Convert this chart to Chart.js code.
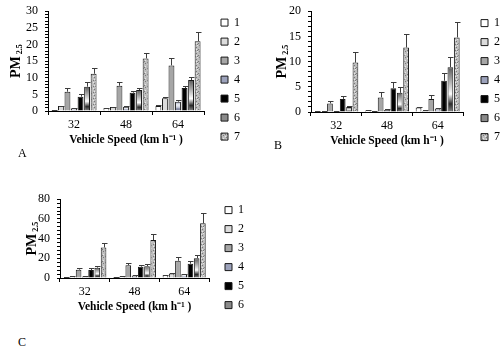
<!DOCTYPE html>
<html>
<head>
<meta charset="utf-8">
<script src="https://cdn.jsdelivr.net/npm/chart.js@4.4.1/dist/chart.umd.min.js"></script>
<style>
  body { margin: 0; background: #fff; }
  #wrap { position: relative; width: 500px; height: 348px; overflow: hidden; background: #fff; }
  canvas { position: absolute; }
  .tag { position: absolute; font-family: "Liberation Serif", "Times New Roman", serif; font-size: 12px; color: #000; line-height: 12px; }
</style>
</head>
<body>
<div id="wrap">
  <canvas id="chartA" width="256" height="160" style="left:0;top:-3px"></canvas>
  <canvas id="chartB" width="250" height="160" style="left:260px;top:-3px"></canvas>
  <canvas id="chartC" width="254" height="142" style="left:0;top:185px"></canvas>
  <div class="tag" style="left:18px;top:147px">A</div>
  <div class="tag" style="left:274px;top:139px">B</div>
  <div class="tag" style="left:18px;top:336px">C</div>
</div>
<script>
// vehicle speeds (km/h) and the treatment series
const speeds = ['32', '48', '64'];
const seriesLabels = ['1', '2', '3', '4', '5', '6', '7'];

// panel A: mean PM2.5 per series (rows = series 1..7, cols = 32/48/64)
const panelAMeans = [
    [0.3, 0.9, 1.5],
    [1.5, 1.2, 3.8],
    [5.8, 7.6, 13.7],
    [0.8, 1.3, 2.8],
    [4.3, 5.5, 6.9],
    [7.3, 6.3, 9.3],
    [11.2, 15.8, 21.0]
];
const panelAErr = [
    [0.1, 0.1, 0.2],
    [0.1, 0.1, 0.3],
    [1.2, 1.1, 2.3],
    [0.1, 0.2, 0.4],
    [0.9, 0.5, 0.7],
    [1.5, 0.7, 1.0],
    [1.6, 1.7, 2.8]
];

// panel B
const panelBMeans = [
    [0.1, 0.3, 0.9],
    [0.1, 0.1, 0.2],
    [1.7, 2.9, 2.6],
    [0.2, 0.4, 0.7],
    [2.6, 4.7, 6.2],
    [1.0, 3.8, 8.9],
    [9.8, 12.8, 14.8]
];
const panelBErr = [
    [0.05, 0.05, 0.1],
    [0.05, 0.05, 0.1],
    [0.4, 1.0, 0.8],
    [0.05, 0.1, 0.1],
    [0.6, 1.2, 1.6],
    [0.2, 1.2, 2.0],
    [2.2, 2.6, 3.1]
];

// panel C
const panelCMeans = [
    [0.5, 1.0, 3.0],
    [1.5, 1.5, 4.5],
    [8.5, 13.0, 17.5],
    [1.5, 2.5, 4.0],
    [8.0, 11.5, 14.5],
    [10.5, 12.0, 20.0],
    [31.0, 38.5, 55.5]
];
const panelCErr = [
    [0.2, 0.2, 0.5],
    [0.3, 0.3, 0.5],
    [1.5, 2.5, 3.5],
    [0.3, 0.4, 0.5],
    [2.0, 1.5, 2.5],
    [2.0, 2.5, 3.0],
    [5.0, 6.5, 10.5]
];

const serif = '"Liberation Serif", "Times New Roman", serif';

// speckled texture used by series 7
function speckle() {
    const c = document.createElement('canvas');
    c.width = 6; c.height = 6;
    const g = c.getContext('2d');
    g.fillStyle = '#bdbdbd';
    g.fillRect(0, 0, 6, 6);
    g.fillStyle = '#7a7a7a';
    [[1, 0], [4, 2], [0, 4], [3, 5], [5, 5]].forEach(p => g.fillRect(p[0], p[1], 1, 1));
    g.fillStyle = '#e6e6e6';
    [[3, 1], [1, 3], [5, 0], [4, 4]].forEach(p => g.fillRect(p[0], p[1], 1, 1));
    return g.createPattern(c, 'repeat');
}
const speckPattern = speckle();

// banded fills for series 4 and 6 (stretched over each bar)
const bandStops = {
    4: [[0, '#9ca2bb'], [0.35, '#eef0f6'], [0.6, '#c9cddc'], [0.8, '#6e7491'], [1, '#c4c8d6']],
    6: [[0, '#5a5a5a'], [0.35, '#b8b8b8'], [0.6, '#ffffff'], [0.82, '#2a2a2a'], [1, '#8a8a8a']]
};
const legendSolid = { 4: '#9197b2', 6: '#6a6a6a' };

function bandFill(n) {
    return function (context) {
        if (context.type !== 'data') return legendSolid[n];
        const chart = context.chart;
        const y = chart.scales.y;
        if (!y || !chart.chartArea) return legendSolid[n];
        const top = y.getPixelForValue(context.raw);
        const base = y.getPixelForValue(0);
        if (!isFinite(top) || !isFinite(base) || base - top < 1) return legendSolid[n];
        const g = chart.ctx.createLinearGradient(0, top, 0, base);
        bandStops[n].forEach(s => g.addColorStop(s[0], s[1]));
        return g;
    };
}

const fills = ['#ffffff', '#dcdcdc', '#a6a6a6', bandFill(4), '#000000', bandFill(6), speckPattern];

// upper error whiskers
const errorBars = {
    id: 'errorBars',
    afterDatasetsDraw(chart) {
        const ctx = chart.ctx;
        const y = chart.scales.y;
        chart.data.datasets.forEach((ds, i) => {
            const meta = chart.getDatasetMeta(i);
            meta.data.forEach((bar, j) => {
                const e = ds.errors[j];
                if (!e) return;
                const yBar = y.getPixelForValue(ds.data[j]);
                const yTop = y.getPixelForValue(ds.data[j] + e);
                const x = Math.round(bar.x) + 0.5;
                ctx.save();
                ctx.strokeStyle = '#3c3c3c';
                ctx.lineWidth = 1;
                ctx.beginPath();
                ctx.moveTo(x, yBar);
                ctx.lineTo(x, Math.round(yTop) + 0.5);
                ctx.moveTo(x - 2.5, Math.round(yTop) + 0.5);
                ctx.lineTo(x + 3, Math.round(yTop) + 0.5);
                ctx.stroke();
                ctx.restore();
            });
        });
    }
};

// "PM 2.5" y title with the subscript
const yTitle = {
    id: 'yTitle',
    afterDraw(chart, args, opts) {
        const ctx = chart.ctx;
        const area = chart.chartArea;
        const cy = (area.top + area.bottom) / 2;
        ctx.save();
        ctx.translate(opts.x, cy);
        ctx.rotate(-Math.PI / 2);
        ctx.fillStyle = '#000';
        ctx.textBaseline = 'middle';
        ctx.font = 'bold 14px ' + serif;
        const w1 = ctx.measureText('PM').width;
        ctx.font = 'bold 8px ' + serif;
        const w2 = ctx.measureText(' 2.5').width;
        const x0 = -(w1 + w2) / 2;
        ctx.font = 'bold 14px ' + serif;
        ctx.fillText('PM', x0, 0);
        ctx.font = 'bold 8px ' + serif;
        ctx.fillText(' 2.5', x0 + w1, 4);
        ctx.restore();
    }
};

// leaves a gap between the plot and the right-hand legend, nudges it down
const legendGap = {
    id: 'legendGap',
    beforeInit(chart, args, opts) {
        const legend = chart.legend;
        const fit = legend.fit;
        legend.fit = function () {
            fit.call(this);
            this.width += opts.gap;
        };
    },
    afterLayout(chart, args, opts) {
        const legend = chart.legend;
        legend.left += opts.gap;
        legend.right += opts.gap;
        legend.top += opts.dy;
        legend.bottom += opts.dy;
    }
};

function buildChart(id, means, errs, cfg) {
    const datasets = means.map((vals, i) => ({
        label: seriesLabels[i],
        data: vals,
        errors: errs[i],
        backgroundColor: fills[i],
        borderColor: '#1a1a1a',
        borderWidth: 1,
        categoryPercentage: 0.88,
        barPercentage: 0.9
    }));

    return new Chart(document.getElementById(id), {
        type: 'bar',
        data: { labels: speeds, datasets: datasets },
        options: {
            responsive: false,
            animation: false,
            devicePixelRatio: 1,
            layout: { padding: cfg.padding },
            plugins: {
                legend: {
                    display: true,
                    position: 'right',
                    align: 'center',
                    labels: {
                        boxWidth: 7,
                        boxHeight: 7,
                        padding: 7,
                        color: '#000',
                        font: { family: serif, size: 12 },
                        filter: item => item.datasetIndex < cfg.legendCount
                    }
                },
                tooltip: { enabled: false },
                yTitle: { x: cfg.titleX },
                legendGap: { gap: cfg.gap, dy: cfg.dy }
            },
            scales: {
                x: {
                    grid: { drawOnChartArea: false, color: '#000', tickLength: 4, offset: true },
                    border: { color: '#000' },
                    ticks: { color: '#000', font: { family: serif, size: 12 }, padding: 3 },
                    title: {
                        display: true,
                        text: 'Vehicle Speed (km h\u207B\u00B9 )',
                        color: '#000',
                        font: { family: serif, size: 11.5, weight: 'bold' },
                        padding: { top: -2, bottom: 0 }
                    }
                },
                y: {
                    min: 0,
                    max: cfg.max,
                    grid: { drawOnChartArea: false, color: '#000', tickLength: 3 },
                    border: { color: '#000' },
                    ticks: {
                        stepSize: cfg.step,
                        autoSkip: false,
                        color: '#000',
                        padding: 7,
                        font: { family: serif, size: 12 },
                        callback: v => (v % cfg.labelStep === 0 ? v : '')
                    }
                }
            }
        },
        plugins: [errorBars, yTitle, legendGap]
    });
}

buildChart('chartA', panelAMeans, panelAErr, {
    max: 30, step: 1, labelStep: 5, legendCount: 7,
    padding: { left: 19, top: 9, right: 6, bottom: 9.8 }, titleX: 16, gap: 10, dy: 3
});
buildChart('chartB', panelBMeans, panelBErr, {
    max: 20, step: 1, labelStep: 5, legendCount: 7,
    padding: { left: 22, top: 9, right: 0, bottom: 8.8 }, titleX: 22, gap: 11, dy: 3
});
buildChart('chartC', panelCMeans, panelCErr, {
    max: 80, step: 4, labelStep: 20, legendCount: 6,
    padding: { left: 31, top: 8, right: 0, bottom: 12.8 }, titleX: 32, gap: 9, dy: 4
});
</script>
</body>
</html>
